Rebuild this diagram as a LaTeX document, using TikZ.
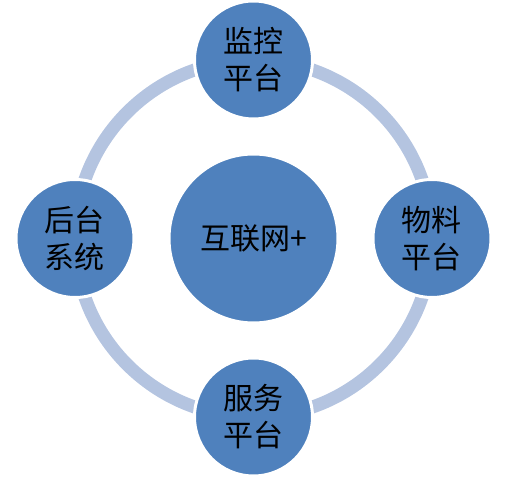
\documentclass[tikz,border=0pt]{standalone}
\usepackage{fontspec}
\newfontfamily\cjk{Noto Sans CJK SC}
\usetikzlibrary{positioning}
\definecolor{nodeblue}{RGB}{79,129,189}
\definecolor{ringblue}{RGB}{180,196,224}

\begin{document}
\begin{tikzpicture}[
  platform/.style={circle, fill=nodeblue, draw=white, line width=2.25pt, minimum size=88.5pt, inner sep=0pt, align=center, font=\cjk\fontsize{22.5}{27.75}\selectfont},
  hubnode/.style={platform, minimum size=126.75pt},
  ring/.style={draw=ringblue, line width=9.75pt},
  on grid, node distance=133.875pt
]
\useasboundingbox (-190.125pt,-179.625pt) rectangle (190.875pt,178.875pt);

\node[hubnode] (hub) {互联网+};
\draw[ring] (hub.center) circle[radius=133.875pt];

\node[platform, above=of hub] (monitor) {监控\\平台};
\node[platform, right=of hub] (material) {物料\\平台};
\node[platform, below=of hub] (service) {服务\\平台};
\node[platform, left=of hub] (backend) {后台\\系统};
\end{tikzpicture}
\end{document}
